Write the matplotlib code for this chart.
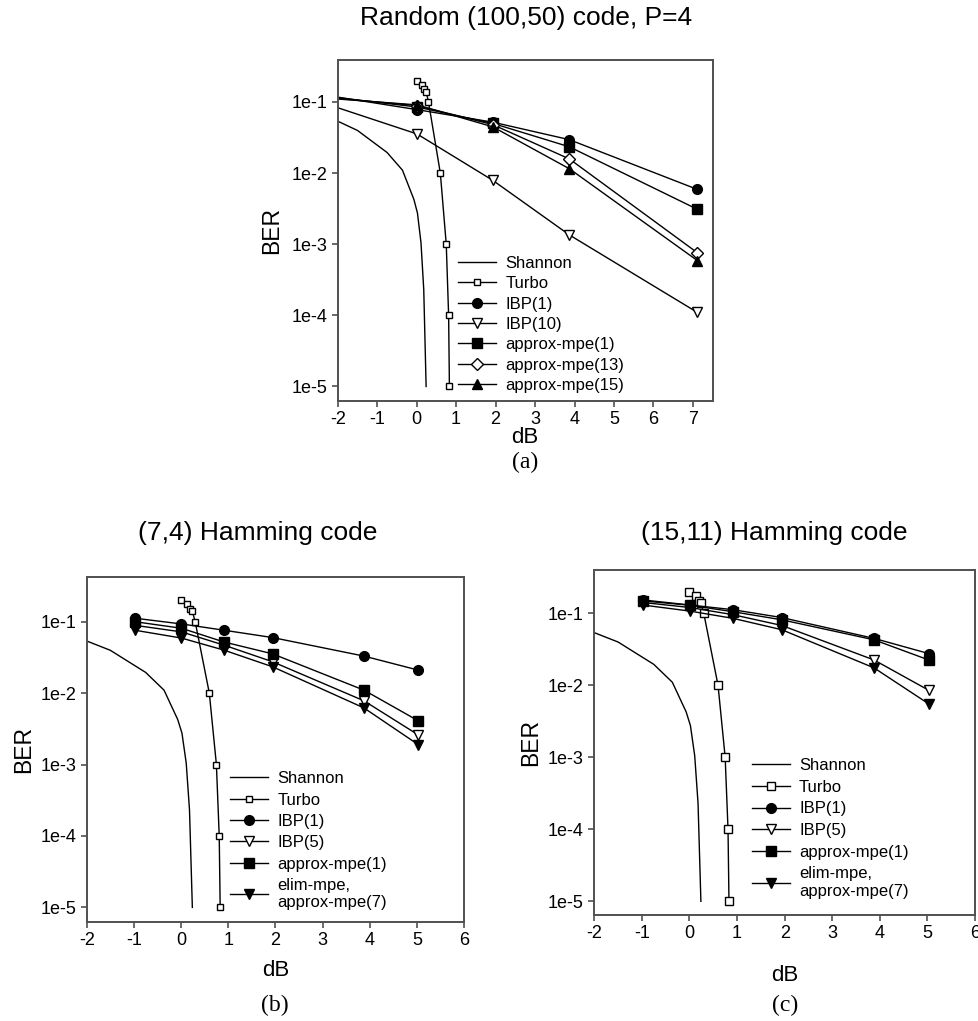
import matplotlib
matplotlib.use("Agg")
import matplotlib.pyplot as plt

plt.rcParams['font.family'] = ['Liberation Sans', 'DejaVu Sans']

# ---------------- data ----------------
shannon_x = [-2.0, -1.5, -0.75, -0.36, -0.07, 0.02, 0.11, 0.18, 0.24]
shannon_ber = [0.0537, 0.0398, 0.0195, 0.011, 0.00427, 0.00275, 0.00105, 2.3e-4, 1e-5]

turbo_x = [0.0, 0.13, 0.19, 0.24, 0.30, 0.60, 0.75, 0.81, 0.83]
turbo_ber = [0.2, 0.175, 0.15, 0.14, 0.1, 0.01, 0.001, 1e-4, 1e-5]

# (a) Random (100,50) code, P=4
a_x = [-2.0, 0.01, 1.93, 3.87, 7.11]
a_ibp1 = [0.117, 0.078, 0.052, 0.0295, 0.0059]
a_ibp10 = [0.083, 0.0355, 0.0079, 0.00135, 1.1e-4]
a_mpe1 = [0.115, 0.085, 0.050, 0.0234, 0.0031]
a_mpe13 = [0.112, 0.089, 0.048, 0.0158, 7.6e-4]
a_mpe15 = [0.110, 0.091, 0.0447, 0.0115, 5.9e-4]

# (b) (7,4) Hamming code and (c) (15,11) Hamming code
h_x = [-0.98, 0.01, 0.91, 1.94, 3.88, 5.03]
b_ibp1 = [0.112, 0.093, 0.076, 0.060, 0.033, 0.021]
b_ibp5 = [0.089, 0.072, 0.047, 0.0275, 0.0078, 0.0026]
b_mpe1 = [0.10, 0.081, 0.052, 0.0355, 0.011, 0.0041]
b_elim = [0.076, 0.059, 0.040, 0.0234, 0.0062, 0.0019]

c_ibp1 = [0.153, 0.130, 0.112, 0.087, 0.0447, 0.0275]
c_ibp5 = [0.141, 0.120, 0.0955, 0.0676, 0.0224, 0.0085]
c_mpe1 = [0.148, 0.129, 0.105, 0.081, 0.0427, 0.0224]
c_elim = [0.130, 0.107, 0.085, 0.059, 0.0174, 0.0055]

ytick_vals = [1e-1, 1e-2, 1e-3, 1e-4, 1e-5]
ytick_labels = ['1e-1', '1e-2', '1e-3', '1e-4', '1e-5']

titles = ['Random (100,50) code, P=4', '(7,4) Hamming code', '(15,11) Hamming code']
captions = ['(a)', '(b)', '(c)']

# ---------------- figure ----------------
fig = plt.figure(figsize=(9.79, 10.21), dpi=100)
W, H = 979, 1021

def make_ax(l, t, r, b):
    return fig.add_axes([l / W, 1 - b / H, (r - l) / W, (b - t) / H])

axa = make_ax(337.7, 60, 712.7, 400.7)
axb = make_ax(86.7, 576.7, 464, 921.7)
axc = make_ax(594.3, 570, 975, 915)

spine_col = '#505050'
lw = 1.0

def style(ax, xlim, ylim, xticks, ylab_x, xlab_y):
    ax.set_yscale('log')
    ax.set_xlim(*xlim)
    ax.set_ylim(*ylim)
    ax.set_xticks(xticks)
    ax.set_xticklabels([str(v) for v in xticks])
    ax.set_yticks(ytick_vals)
    ax.set_yticklabels(ytick_labels)
    ax.minorticks_off()
    ax.tick_params(direction='out', length=4.5, width=1.2, color=spine_col,
                   labelsize=13, pad=3)
    for s in ax.spines.values():
        s.set_color(spine_col)
        s.set_linewidth(1.4)
    ax.set_ylabel('BER', fontsize=16.5, va='center')
    ax.set_xlabel('dB', fontsize=16, va='center')
    ax.yaxis.set_label_coords(ylab_x, 0.5)
    ax.xaxis.set_label_coords(0.5, xlab_y)

def common(ax, turbo_ms):
    ax.plot(shannon_x, shannon_ber, '-', color='black', lw=lw, label='Shannon')
    ax.plot(turbo_x, turbo_ber, '-', color='black', lw=lw, marker='s', ms=turbo_ms,
            mfc='white', mec='black', mew=1.0, label='Turbo')

# panel (a)
common(axa, 5)
mk = dict(color='black', lw=lw, mec='black', mew=1.0, markevery=slice(1, None))
axa.plot(a_x, a_ibp1, marker='o', ms=7, mfc='black', label='IBP(1)', **mk)
axa.plot(a_x, a_ibp10, marker='v', ms=7.5, mfc='white', label='IBP(10)', **mk)
axa.plot(a_x, a_mpe1, marker='s', ms=6.5, mfc='black', label='approx-mpe(1)', **mk)
axa.plot(a_x, a_mpe13, marker='D', ms=6.5, mfc='white', label='approx-mpe(13)', **mk)
axa.plot(a_x, a_mpe15, marker='^', ms=7.5, mfc='black', label='approx-mpe(15)', **mk)
style(axa, (-2, 7.5), (10 ** -5.2, 10 ** -0.41), list(range(-2, 8)), -0.175, -0.108)

mk2 = dict(color='black', lw=lw, mec='black', mew=1.0)
for ax, ib1, ib5, m1, el, tms in [(axb, b_ibp1, b_ibp5, b_mpe1, b_elim, 4.5),
                                   (axc, c_ibp1, c_ibp5, c_mpe1, c_elim, 6)]:
    common(ax, tms)
    ax.plot(h_x, ib1, marker='o', ms=7, mfc='black', label='IBP(1)', **mk2)
    ax.plot(h_x, ib5, marker='v', ms=7.5, mfc='white', label='IBP(5)', **mk2)
    ax.plot(h_x, m1, marker='s', ms=6.5, mfc='black', label='approx-mpe(1)', **mk2)
    ax.plot(h_x, el, marker='v', ms=7.5, mfc='black', label='elim-mpe,\napprox-mpe(7)', **mk2)

style(axb, (-2, 6), (10 ** -5.2, 10 ** -0.37), list(range(-2, 7)), -0.166, -0.14)
style(axc, (-2, 6), (10 ** -5.19, 10 ** -0.4), list(range(-2, 7)), -0.166, -0.174)

leg_kw = dict(frameon=False, fontsize=12, handlelength=2.3, handletextpad=0.55,
              borderpad=0, borderaxespad=0, loc='upper left')
axa.legend(bbox_to_anchor=(0.32, 0.425), labelspacing=0.32, **leg_kw)
axb.legend(bbox_to_anchor=(0.38, 0.436), labelspacing=0.38, **leg_kw)
axc.legend(bbox_to_anchor=(0.413, 0.455), labelspacing=0.40, **leg_kw)

title_pos = [(526, 18), (257.5, 533), (774.5, 533)]
for t, (x, y) in zip(titles, title_pos):
    fig.text(x / W, 1 - y / H, t, ha='center', va='center', fontsize=19)

cap_pos = [(525, 462), (275, 1005), (785, 1005)]
for c, (x, y) in zip(captions, cap_pos):
    fig.text(x / W, 1 - y / H, c, ha='center', va='center',
             fontsize=17, family='Liberation Serif')

fig.savefig('out.png', dpi=100)
